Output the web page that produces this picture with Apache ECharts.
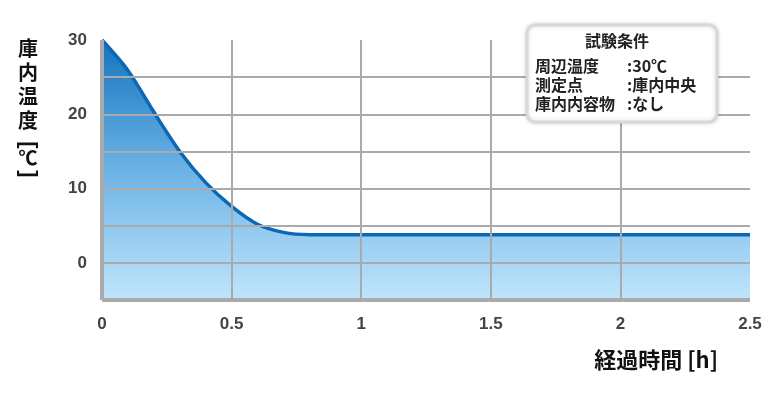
<!DOCTYPE html>
<html><head><meta charset="utf-8">
<script src="https://cdn.jsdelivr.net/npm/echarts@6/dist/echarts.min.js"></script>
<style>html,body{margin:0;padding:0;background:#fff}#c{width:770px;height:400px}</style>
</head><body><div id="c"></div>
<script>
const hours = [0, 0.1, 0.2, 0.3, 0.4, 0.5, 0.6, 0.7, 0.8, 1.0, 1.5, 2.0, 2.5];
const temps = [30, 25.9, 20.3, 15.0, 10.8, 7.6, 5.2, 4.1, 3.8, 3.8, 3.8, 3.8, 3.8];
const yLabels = [0, 10, 20, 30];
const xLabels = [0, 0.5, 1, 1.5, 2, 2.5];
const yGrid = [25, 20, 15, 10, 5, 0];
const xGrid = [0.5, 1, 1.5, 2];
const yTitle = ['庫','内','温','度'];
const xTitle = '経過時間 [h]';
const boxTitle = '試験条件';
const condKeys = ['周辺温度','測定点','庫内内容物'];
const condVals = [':30℃',':庫内中央',':なし'];

const FONT = '"Noto Sans CJK JP","Noto Sans",sans-serif';
const NUMFONT = '"Liberation Sans", Arial, sans-serif';
const chart = echarts.init(document.getElementById('c'));
const graphic = [];
const yTop = 48, yStep = 24;
yTitle.forEach((t,i)=>graphic.push({type:'text',x:28,y:yTop+i*yStep,style:{text:t,font:'bold 20px '+FONT,fill:'#111',align:'center',verticalAlign:'middle'}}));
graphic.push({type:'text',x:28,y:145,rotation:-Math.PI/2,style:{text:'[',font:'bold 22px '+NUMFONT,fill:'#111',align:'center',verticalAlign:'middle'}});
graphic.push({type:'text',x:28,y:158,style:{text:'℃',font:'bold 19px '+FONT,fill:'#111',align:'center',verticalAlign:'middle'}});
graphic.push({type:'text',x:28,y:174,rotation:-Math.PI/2,style:{text:']',font:'bold 22px '+NUMFONT,fill:'#111',align:'center',verticalAlign:'middle'}});
graphic.push({type:'text',x:718,y:360,style:{text:xTitle,font:'bold 22px '+FONT,fill:'#111',align:'right',verticalAlign:'middle'}});
graphic.push({type:'rect',shape:{x:527,y:25,width:190,height:97,r:8},style:{fill:'#fff',stroke:'#d8d8d8',lineWidth:3,shadowBlur:4,shadowColor:'rgba(0,0,0,0.15)'},z:10});
graphic.push({type:'text',x:617,y:41,z:11,style:{text:boxTitle,font:'bold 16px '+FONT,fill:'#222',align:'center',verticalAlign:'middle'}});
condKeys.forEach((k,i)=>{
  graphic.push({type:'text',x:535,y:66+i*19,z:11,style:{text:k,font:'bold 16px '+FONT,fill:'#222',align:'left',verticalAlign:'middle'}});
  graphic.push({type:'text',x:627,y:66+i*19,z:11,style:{text:condVals[i],font:'bold 16px '+FONT,fill:'#222',align:'left',verticalAlign:'middle'}});
});

const gridStyle = {color:'#aaa',width:2,type:'solid'};
chart.setOption({
  animation:false,
  grid:{left:102,right:20,top:40,bottom:100},
  xAxis:{type:'value',min:0,max:2.5,interval:0.5,
    axisLine:{show:false},axisTick:{show:false},splitLine:{show:false},
    axisLabel:{margin:16,color:'#444',fontSize:17,fontWeight:'bold',fontFamily:NUMFONT,
      formatter:v=>xLabels.includes(v)?String(v):''}},
  yAxis:{type:'value',min:-5,max:30,interval:5,
    axisLine:{show:false},axisTick:{show:false},splitLine:{show:false},
    axisLabel:{margin:15,color:'#444',fontSize:17,fontWeight:'bold',fontFamily:NUMFONT,
      formatter:v=>yLabels.includes(v)?String(v):''}},
  series:[{
    type:'line',data:hours.map((h,i)=>[h,temps[i]]),smooth:0.3,symbol:'none',
    lineStyle:{color:'#0a68b5',width:3.5},
    areaStyle:{origin:'start',opacity:1,color:new echarts.graphic.LinearGradient(0,0,0,1,[{offset:0,color:'#1474bd'},{offset:0.5,color:'#6cb3e6'},{offset:1,color:'#c0e5fc'}])},
    z:2
  },{
    type:'line',data:[],symbol:'none',silent:true,z:3,
    markLine:{silent:true,symbol:'none',label:{show:false},lineStyle:gridStyle,
      data:yGrid.map(v=>({yAxis:v})).concat(xGrid.map(v=>({xAxis:v})))}
  },{
    type:'line',data:[[0,-5],[0,30]],symbol:'none',lineStyle:{color:'#aaa',width:4},silent:true,z:4
  },{
    type:'line',data:[[0,-5],[2.5,-5]],symbol:'none',lineStyle:{color:'#aaa',width:4},silent:true,z:4
  }],
  graphic:graphic
});
</script></body></html>
